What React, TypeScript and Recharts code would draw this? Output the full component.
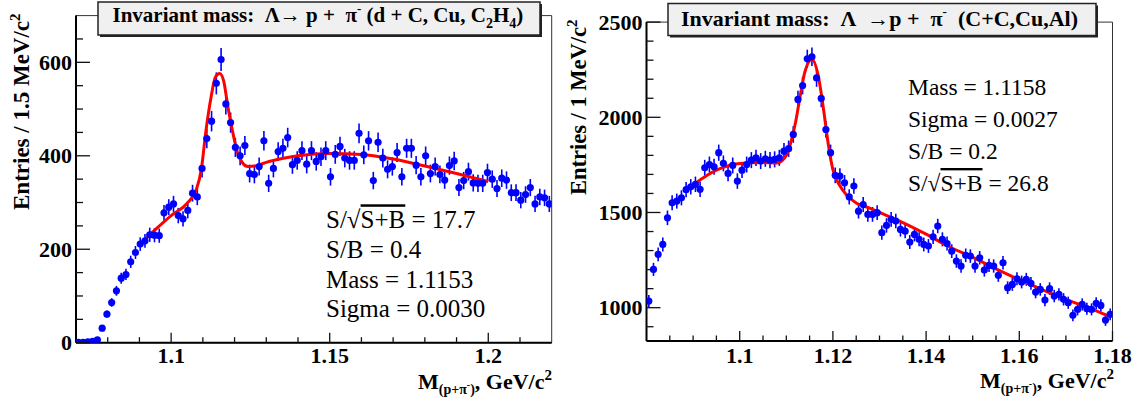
import React from "react";
import { ComposedChart, Scatter, Line, XAxis, YAxis, ErrorBar, ReferenceArea } from "recharts";

const FONT = '"Liberation Serif", "Times New Roman", Times, serif';

// ---- left panel: d + C, Cu, C2H4 (1.5 MeV bins starting at 1.07) ----
const leftBinStart = 1.07;
const leftBinWidth = 0.0015;
const leftCounts = [
  1, 1, 2, 3, 6, 31, 61, 86, 111, 138,
  146, 173, 193, 211, 218, 231, 230, 229, 278, 290,
  297, 272, 265, 283, 320, 312, 373, 437, 474, 555,
  606, 511, 471, 418, 400, 422, 362, 360, 377, 432,
  341, 373, 409, 416, 439, 381, 390, 411, 382, 411,
  388, 398, 411, 355, 403, 420, 395, 390, 390, 448,
  402, 432, 347, 429, 395, 371, 377, 407, 355, 416,
  416, 380, 355, 400, 362, 377, 360, 348, 379, 389,
  332, 347, 366, 342, 341, 341, 364, 350, 330, 352,
  348, 321, 321, 305, 317, 332, 297, 312, 310, 297,
];
const leftFitX = [
  1.09, 1.095, 1.1, 1.105, 1.1079, 1.1095, 1.111, 1.1126, 1.114, 1.1153,
  1.1165, 1.1179, 1.1195, 1.121, 1.1226, 1.1242, 1.127, 1.13, 1.135, 1.14,
  1.15, 1.16, 1.17, 1.18, 1.19, 1.2,
];
const leftFitY = [
  210, 242, 272, 298, 327, 370, 455, 526, 569, 576,
  562, 505, 448, 405, 384, 377, 379, 386, 394, 400,
  405, 403, 393, 378, 362, 345,
];
const leftXTicks = [1.08, 1.09, 1.1, 1.11, 1.12, 1.13, 1.14, 1.15, 1.16, 1.17, 1.18, 1.19, 1.2, 1.21];
const leftXLabels = [1.1, 1.15, 1.2];
const leftYTicks = [0, 50, 100, 150, 200, 250, 300, 350, 400, 450, 500, 550, 600, 650];
const leftYLabels = [0, 200, 400, 600];

// ---- right panel: C+C, Cu, Al (1 MeV bins starting at 1.08) ----
const rightBinStart = 1.08;
const rightBinWidth = 0.001;
const rightCounts = [
  1035, 1201, 1280, 1332, 1472, 1551, 1560, 1577, 1620, 1635,
  1648, 1622, 1735, 1752, 1740, 1814, 1758, 1705, 1747, 1665,
  1722, 1752, 1775, 1787, 1770, 1782, 1775, 1779, 1787, 1822,
  1835, 1910, 2094, 2167, 2307, 2318, 2207, 2099, 1936, 1814,
  1695, 1691, 1656, 1582, 1639, 1507, 1542, 1490, 1490, 1499,
  1394, 1432, 1464, 1455, 1411, 1402, 1345, 1385, 1359, 1332,
  1324, 1372, 1429, 1359, 1337, 1297, 1245, 1219, 1275, 1271,
  1219, 1262, 1198, 1222, 1219, 1170, 1236, 1105, 1122, 1152,
  1135, 1149, 1128, 1082, 1096, 1040, 1100, 1061, 1070, 1044,
  1026, 960, 991, 1017, 995, 991, 1023, 1012, 935, 965,
];
const rightFitX = [
  1.09, 1.095, 1.1, 1.105, 1.108, 1.109, 1.11, 1.111, 1.112, 1.113,
  1.114, 1.1155, 1.117, 1.118, 1.119, 1.12, 1.1215, 1.123, 1.125, 1.128,
  1.13, 1.135, 1.14, 1.145, 1.15, 1.155, 1.16, 1.165, 1.17, 1.175, 1.179,
];
const rightFitY = [
  1645, 1722, 1757, 1763, 1760, 1770, 1800, 1870, 1975, 2115,
  2240, 2305, 2200, 2040, 1860, 1725, 1640, 1590, 1550, 1522,
  1500, 1447, 1386, 1320, 1264, 1204, 1147, 1094, 1044, 998, 958,
];
const rightXTicks = [
  1.085, 1.09, 1.095, 1.1, 1.105, 1.11, 1.115, 1.12, 1.125, 1.13, 1.135, 1.14,
  1.145, 1.15, 1.155, 1.16, 1.165, 1.17, 1.175, 1.18,
];
const rightXLabels = [1.1, 1.12, 1.14, 1.16, 1.18];
const rightYTicks = [900, 1000, 1100, 1200, 1300, 1400, 1500, 1600, 1700, 1800, 1900, 2000, 2100, 2200, 2300, 2400, 2500];
const rightYLabels = [1000, 1500, 2000, 2500];

// Poisson errors, as ROOT draws them for a histogram
const toPoints = (counts: number[], start: number, w: number) =>
  counts.map((c, i) => ({ x: start + w * (i + 0.5), y: c, err: Math.sqrt(c) }));
const toFit = (xs: number[], ys: number[]) => xs.map((x, i) => ({ x, y: ys[i] }));

const isMajor = (labels: number[], v: number) => labels.some((l) => Math.abs(l - v) < 1e-7);

function XTick(props: any) {
  const { x, y, payload, labels, majorLen, minorLen, dy } = props;
  const major = isMajor(labels, payload.value);
  return (
    <g>
      <line x1={x} y1={y} x2={x} y2={y - (major ? majorLen : minorLen)} stroke="#111" strokeWidth={1.3} />
      {major && (
        <text x={x} y={y + dy} textAnchor="middle" fontFamily={FONT} fontWeight="bold" fontSize={22} fill="#000">
          {String(payload.value)}
        </text>
      )}
    </g>
  );
}

function YTick(props: any) {
  const { x, y, payload, labels, majorLen, minorLen } = props;
  const major = isMajor(labels, payload.value);
  return (
    <g>
      <line x1={x} y1={y} x2={x + (major ? majorLen : minorLen)} y2={y} stroke="#111" strokeWidth={1.3} />
      {major && (
        <text x={x - 4} y={y + 7.5} textAnchor="end" fontFamily={FONT} fontWeight="bold" fontSize={22} fill="#000">
          {String(payload.value)}
        </text>
      )}
    </g>
  );
}

const dot = (p: any) => <circle cx={p.cx} cy={p.cy} r={3.6} fill="#0000ff" />;

function Panel(props: any) {
  const { left, margin, xDomain, yDomain, points, fit, xTicks, xLabels, yTicks, yLabels, xLen, yLen, xDy } = props;
  return (
    <div style={{ position: "absolute", left, top: 0 }}>
      <ComposedChart width={570} height={403} margin={margin}>
        <XAxis
          type="number"
          dataKey="x"
          domain={xDomain}
          allowDataOverflow
          ticks={xTicks}
          interval={0}
          height={30}
          tickSize={0}
          tickMargin={0}
          tickLine={false}
          axisLine={{ stroke: "#000", strokeWidth: 2 }}
          tick={(p: any) => <XTick {...p} labels={xLabels} majorLen={xLen[0]} minorLen={xLen[1]} dy={xDy} />}
        />
        <YAxis
          type="number"
          dataKey="y"
          domain={yDomain}
          allowDataOverflow
          ticks={yTicks}
          interval={0}
          width={60}
          tickSize={0}
          tickMargin={0}
          tickLine={false}
          axisLine={{ stroke: "#000", strokeWidth: 2 }}
          tick={(p: any) => <YTick {...p} labels={yLabels} majorLen={yLen[0]} minorLen={yLen[1]} />}
        />
        <ReferenceArea
          x1={xDomain[0]}
          x2={xDomain[1]}
          y1={yDomain[0]}
          y2={yDomain[1]}
          fill="none"
          fillOpacity={0}
          stroke="#333"
          strokeWidth={1}
        />
        <Scatter data={points} dataKey="y" shape={dot} isAnimationActive={false}>
          <ErrorBar dataKey="err" direction="y" width={0} stroke="#0000ff" strokeWidth={1.6} />
        </Scatter>
        <Line
          data={fit}
          dataKey="y"
          type="monotone"
          stroke="#ff0000"
          strokeWidth={3}
          dot={false}
          activeDot={false}
          isAnimationActive={false}
        />
      </ComposedChart>
    </div>
  );
}

const bold = { fontFamily: FONT, fontWeight: "bold" as const };
const regular = { fontFamily: FONT };
const NB = "\u00a0";

export default function App() {
  return (
    <div style={{ position: "absolute", left: 0, top: 0, width: 1140, height: 403, background: "#fff" }}>
      <Panel
        left={0}
        margin={{ left: 16, right: 18.3, top: 15.6, bottom: 30.3 }}
        xDomain={[1.07, 1.22]}
        yDomain={[0, 700]}
        points={toPoints(leftCounts, leftBinStart, leftBinWidth)}
        fit={toFit(leftFitX, leftFitY)}
        xTicks={leftXTicks}
        xLabels={leftXLabels}
        yTicks={leftYTicks}
        yLabels={leftYLabels}
        xLen={[10, 5.5]}
        yLen={[14, 7]}
        xDy={20}
      />
      <Panel
        left={570}
        margin={{ left: 16.5, right: 27.5, top: 22.1, bottom: 32 }}
        xDomain={[1.08, 1.18]}
        yDomain={[825, 2500]}
        points={toPoints(rightCounts, rightBinStart, rightBinWidth)}
        fit={toFit(rightFitX, rightFitY)}
        xTicks={rightXTicks}
        xLabels={rightXLabels}
        yTicks={rightYTicks}
        yLabels={rightYLabels}
        xLen={[10, 5.5]}
        yLen={[14, 7]}
        xDy={21.5}
      />
      <svg width={1140} height={403} style={{ position: "absolute", left: 0, top: 0, pointerEvents: "none" }}>
        {/* title boxes */}
        <rect x={100} y={4} width={442} height={33} fill="#222" />
        <rect x={98} y={2} width={442} height={33} fill="#f0f0f0" stroke="#222" strokeWidth={1.5} />
        <text x={112.5} y={21.5} fontSize={21} {...bold} fill="#000">
          {`Invariant mass:${NB}${NB}Λ→ p +${NB}${NB}π`}
          <tspan fontSize={13} dy={-9}>-</tspan>
          <tspan dy={9}>{`${NB}(d + C, Cu, C`}</tspan>
          <tspan fontSize={14} dy={6}>2</tspan>
          <tspan dy={-6}>H</tspan>
          <tspan fontSize={14} dy={6}>4</tspan>
          <tspan dy={-6}>)</tspan>
        </text>

        <rect x={670} y={5.5} width={428} height={32} fill="#222" />
        <rect x={668} y={3.5} width={428} height={32} fill="#f0f0f0" stroke="#222" strokeWidth={1.5} />
        <text x={681} y={26} fontSize={22} {...bold} fill="#000">
          {`Invariant mass:${NB}${NB}Λ${NB}${NB}→p +${NB}${NB}π`}
          <tspan fontSize={13} dy={-10}>-</tspan>
          <tspan dy={10}>{`${NB}${NB}(C+C,Cu,Al)`}</tspan>
        </text>

        {/* y axis titles */}
        <text transform="translate(29,210) rotate(-90)" fontSize={23} {...bold} fill="#000">
          Entries / 1.5 MeV/c
          <tspan fontSize={15} dy={-9}>2</tspan>
        </text>
        <text transform="translate(586,195) rotate(-90)" fontSize={22.5} {...bold} fill="#000">
          Entries / 1 MeV/c
          <tspan fontSize={15} dy={-9}>2</tspan>
        </text>

        {/* x axis titles */}
        <text x={552} y={389} textAnchor="end" fontSize={22} {...bold} fill="#000">
          M
          <tspan fontSize={14} dy={5}>(p+π</tspan>
          <tspan fontSize={10} dy={-6}>-</tspan>
          <tspan fontSize={14} dy={6}>)</tspan>
          <tspan dy={-5}>, GeV/c</tspan>
          <tspan fontSize={15} dy={-9}>2</tspan>
        </text>
        <text x={1114} y={388} textAnchor="end" fontSize={22} {...bold} fill="#000">
          M
          <tspan fontSize={14} dy={5}>(p+π</tspan>
          <tspan fontSize={10} dy={-6}>-</tspan>
          <tspan fontSize={14} dy={6}>)</tspan>
          <tspan dy={-5}>, GeV/c</tspan>
          <tspan fontSize={15} dy={-9}>2</tspan>
        </text>

        {/* fit results */}
        <g fontSize={25} {...regular} fill="#000">
          <text x={326} y={228.3}>
            S/√<tspan textDecoration="overline">S+B</tspan> = 17.7
          </text>
          <text x={326} y={257.7}>S/B = 0.4</text>
          <text x={326} y={287.5}>Mass = 1.1153</text>
          <text x={326} y={316.7}>Sigma = 0.0030</text>
        </g>
        <g fontSize={23.5} {...regular} fill="#000">
          <text x={908} y={95}>Mass = 1.1158</text>
          <text x={908} y={127}>Sigma = 0.0027</text>
          <text x={908} y={159.3}>S/B = 0.2</text>
          <text x={908} y={191}>
            S/√<tspan textDecoration="overline">S+B</tspan> = 26.8
          </text>
        </g>
      </svg>
    </div>
  );
}
